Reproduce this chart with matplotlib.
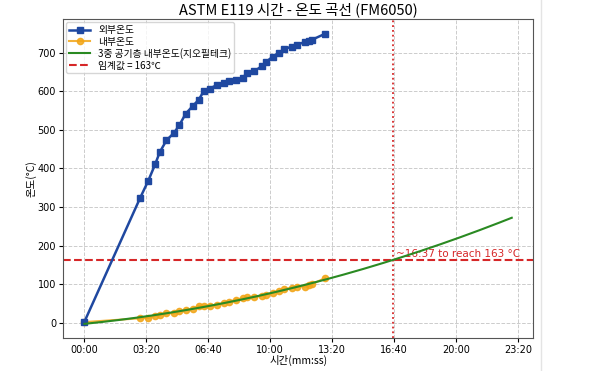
import numpy as np
import matplotlib
matplotlib.use("Agg")
import matplotlib.pyplot as plt
from matplotlib.ticker import MultipleLocator, FuncFormatter
from matplotlib.lines import Line2D

plt.rcParams['font.family'] = ['DejaVu Sans', 'Noto Sans CJK KR']
KR = ['Noto Sans CJK KR', 'DejaVu Sans']

# ----------------------------
# Data (seconds, degC)
# ----------------------------
time_s = [0, 180, 206, 229, 243, 265, 290, 307, 327, 350, 369, 385, 405, 427,
          451, 466, 488, 512, 525, 548, 573, 587, 608, 627, 645, 669, 685,
          712, 726, 736, 777]
outer_temp = [3, 324, 368, 412, 442, 473, 493, 513, 542, 562, 578, 600, 607,
              616, 622, 626, 628, 635, 648, 652, 665, 676, 690, 699, 709, 716,
              720, 728, 730, 734, 749]
inner_temp = [2, 12, 13, 18, 20, 25, 25, 30, 34, 37, 44, 44, 44, 47, 52, 54,
              60, 64, 66, 67, 70, 73, 78, 82, 87, 91, 94, 94, 98, 101, 116]
threshold = 163
fit_end_s = 1380
reach_s = 997

# quadratic fit of inner temperature, extended
coef = np.polyfit(time_s, inner_temp, 2)
t_fit = np.linspace(0, fit_end_s, 200)
y_fit = np.polyval(coef, t_fit)


def mmss(x, pos=None):
    sign = '-' if x < 0 else ''
    x = abs(int(round(x)))
    return f"{sign}{x // 60:02d}:{x % 60:02d}"


fig = plt.figure(figsize=(5.95, 3.71), dpi=100)
ax = fig.add_axes([0.106, 0.088, 0.79, 0.86])

ax.plot(time_s, outer_temp, color='#1f48a0', marker='s', markersize=5,
        linewidth=1.8, label='외부온도', zorder=3)
ax.plot(time_s, inner_temp, color='#f2a516', marker='o', markersize=4.5,
        linewidth=1.5, alpha=0.85, label='내부온도', zorder=2)
ax.plot(t_fit, y_fit, color='#2a8a22', linewidth=1.5,
        label='3중 공기층 내부온도(지오필테크)', zorder=4)
ax.axhline(threshold, color='#d62728', linestyle='--', linewidth=1.5,
           label=f'임계값 = {threshold}℃')
ax.axvline(reach_s, color='#d62728', linestyle=':', linewidth=1.3)
ax.text(reach_s + 8, threshold + 2, f"~{mmss(reach_s)} to reach {threshold} °C",
        color='#d62728', fontsize=7.5, va='bottom', ha='left')

ax.xaxis.set_major_locator(MultipleLocator(200))
ax.xaxis.set_major_formatter(FuncFormatter(mmss))
ax.tick_params(labelsize=7, length=3, pad=2)
ax.grid(True, linestyle='--', color='#cccccc', linewidth=0.7)
for s in ax.spines.values():
    s.set_color('#555555')

ax.set_title('ASTM E119 시간 - 온도 곡선 (FM6050)', family=KR, fontsize=10.5, pad=4)
ax.set_xlabel('시간(mm:ss)', family=KR, fontsize=7.5, labelpad=0)
ax.set_ylabel('온도(°C)', family=KR, fontsize=7.5, labelpad=1)
leg = ax.legend(loc='upper left', prop={'family': KR, 'size': 7},
                borderaxespad=0.3, labelspacing=0.15, borderpad=0.3,
                handlelength=2.2)

fig.add_artist(Line2D([0.91, 0.91], [0, 1], color='#e4e4e4', linewidth=1))

fig.savefig('out.png', dpi=100)
